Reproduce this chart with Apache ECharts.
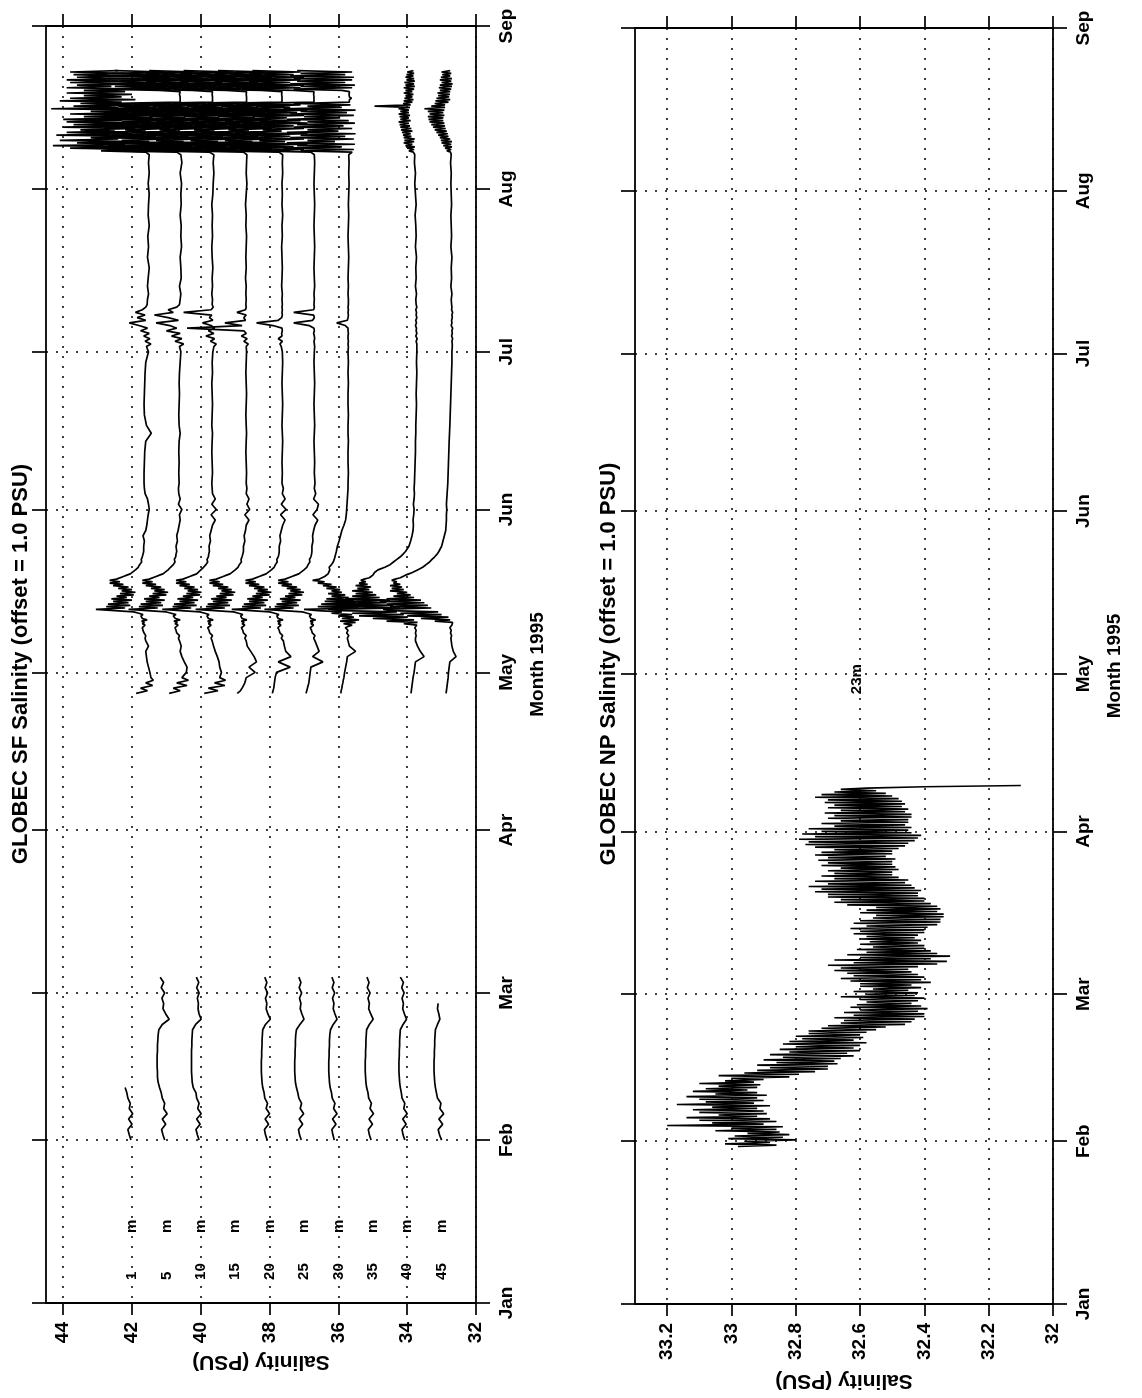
<!DOCTYPE html>
<html><head><meta charset="utf-8">
<script src="https://cdn.jsdelivr.net/npm/echarts@6/dist/echarts.min.js"></script>
<style>html,body{margin:0;padding:0;background:#fff;}#chart{width:1142px;height:1398px;}</style>
</head><body><div id="chart"></div>
<script>
// ---------- axes / labels ----------
const monthDays = [0,31,59,90,120,151,181,212,243];
const monthNames = ['Jan','Feb','Mar','Apr','May','Jun','Jul','Aug','Sep'];
const sfSalTicks = [32,34,36,38,40,42,44];
const npSalTicks = [32,32.2,32.4,32.6,32.8,33,33.2];
const depthLabels = ['1','5','10','15','20','25','30','35','40','45'];
const depthLabelSal = [42,41,40,39,38,37,36,35,34,33];

// ---------- SF, February segment (day of year) ----------
const febDays = [31,32,33,34,35,36,37,38,39,40,41,42,43,44,45,46,47,48,49,50,51,52,53,54,55,56,57,58,59,60,61,62];
const feb1m = [42.03,42.08,42.12,42.0,42.1,41.98,42.08,42.05,42.12,42.15,42.2];
const feb5m = [41.05,41.1,41.14,41.02,41.12,40.98,41.08,41.05,41.12,41.15,41.2,41.24,41.26,41.26,41.27,41.27,41.27,41.26,41.26,41.25,41.24,41.22,41.12,40.92,41.02,41.1,41.08,41.13,41.05,41.15,41.08,41.18];
const feb10m = [40.05,40.1,40.14,40.02,40.12,39.99,40.09,40.05,40.12,40.14,40.22,40.25,40.26,40.27,40.27,40.27,40.27,40.27,40.26,40.26,40.25,40.24,40.15,39.99,40.05,40.08,40.07,40.1,40.05,40.12,40.06,40.13];
const feb20m = [38.07,38.12,38.15,38.03,38.13,38.0,38.1,38.06,38.14,38.16,38.2,38.22,38.23,38.24,38.24,38.24,38.23,38.23,38.22,38.22,38.21,38.2,38.12,37.98,38.05,38.1,38.08,38.12,38.06,38.13,38.08,38.14];
const feb25m = [37.08,37.13,37.16,37.04,37.14,37.01,37.11,37.07,37.15,37.18,37.22,37.25,37.26,37.27,37.27,37.27,37.26,37.26,37.25,37.25,37.24,37.22,37.12,37.0,37.06,37.11,37.09,37.13,37.07,37.14,37.09,37.15];
const feb30m = [36.12,36.16,36.19,36.07,36.17,36.04,36.14,36.1,36.18,36.2,36.24,36.26,36.27,36.28,36.28,36.28,36.27,36.27,36.26,36.26,36.25,36.23,36.15,36.04,36.1,36.15,36.13,36.17,36.11,36.18,36.13,36.19];
const feb35m = [35.05,35.1,35.13,35.01,35.11,34.98,35.08,35.04,35.12,35.14,35.18,35.2,35.21,35.22,35.22,35.22,35.21,35.21,35.2,35.2,35.19,35.18,35.1,34.99,35.06,35.12,35.1,35.14,35.08,35.16,35.11,35.17];
const feb40m = [34.07,34.12,34.15,34.03,34.13,34.0,34.1,34.07,34.15,34.17,34.2,34.22,34.23,34.24,34.24,34.24,34.23,34.23,34.22,34.22,34.21,34.2,34.12,34.02,34.08,34.13,34.11,34.15,34.09,34.16,34.11,34.2];
const feb45m = [33.0,33.06,33.1,32.97,33.08,32.94,33.05,33.02,33.12,33.15,33.18,33.2,33.21,33.22,33.22,33.22,33.21,33.21,33.2,33.2,33.19,33.18,33.12,33.05,33.08,33.12,33.1];

// ---------- SF, May-August segment ----------
const maDays = [
116,116.5,117,117.5,118,118.5,119,120,121,122,123,124,125,126,
126.5,127,127.5,128,128.5,
128.75,129,129.25,129.5,129.75,130,130.25,130.5,130.75,131,131.25,131.5,131.75,132,132.25,132.5,132.75,133,133.25,133.5,133.75,
134,134.25,134.5,134.75,135,135.25,135.5,135.75,136,136.25,136.5,136.75,137,137.25,137.5,137.75,138,138.25,138.5,138.75,139,
139.5,140,140.5,141,141.5,142,142.5,143,
144,145,146,147,148,149,150,151,152,153,154,155,156,158,160,162,164,165.5,167,169,171,173,175,177,179,181,182,
182.5,183,183.5,184,184.5,185,185.5,186,186.5,187,187.5,188,188.5,189,189.5,190,
191,192,193.5,195,197,199,201,203,205,207,209,211,213,215,217,218.5,
219,219.25,219.5,219.75,220,220.25,220.5,220.75,221,221.25,221.5,221.75,222,222.25,222.5,222.75,223,223.25,223.5,223.75,
224,224.25,224.5,224.75,225,225.25,225.5,225.75,226,226.25,226.5,226.75,227,227.25,227.5,227.75,228,228.25,228.5,228.75,
229,229.25,229.5,229.75,230,230.25,230.5,230.75,231,231.25,231.5,231.75,232,232.25,232.5,232.75,233,233.25,233.5,233.75,
234,234.25,234.5];
const ma1m = [
41.88,41.55,41.75,41.4,41.6,41.38,41.45,41.48,41.52,41.56,41.58,41.6,41.52,41.6,
41.62,41.6,41.65,41.68,41.7,
41.68,41.62,41.7,41.64,41.72,41.56,41.7,41.65,41.74,41.68,41.8,41.95,42.5,43.05,42.2,42.75,42.05,42.7,42.1,42.55,42.0,
42.6,42.15,42.45,41.95,42.35,41.9,42.3,42.0,42.4,42.1,42.55,42.25,42.65,42.35,42.65,42.45,42.4,42.25,42.15,42.05,42.0,
41.9,41.82,41.78,41.72,41.73,41.7,41.68,41.66,
41.66,41.64,41.68,41.6,41.57,41.55,41.53,41.5,41.52,41.55,41.62,41.64,41.65,41.65,41.64,41.63,41.6,41.44,41.58,41.64,41.65,41.64,41.63,41.62,41.6,41.52,41.58,
41.45,41.62,41.48,41.66,41.5,41.75,41.55,41.8,42.08,41.6,41.85,41.62,41.9,41.7,41.6,41.56,
41.55,41.52,41.55,41.53,41.5,41.55,41.52,41.54,41.5,41.53,41.52,41.5,41.53,41.5,41.52,41.5,
41.6,42.9,41.9,43.8,41.7,44.3,42.2,43.6,41.8,44.1,42.4,43.2,41.7,44.2,42.0,43.9,42.5,43.5,41.9,44.0,
42.2,43.7,41.8,43.9,42.3,44.0,42.0,43.4,41.7,43.8,42.1,43.2,41.6,44.35,42.4,43.7,42.0,43.5,42.3,44.1,
41.9,43.8,42.3,43.4,42.0,43.9,42.2,43.4,41.8,43.9,42.6,43.6,41.9,43.8,42.4,43.9,42.1,43.6,42.5,43.7,
42.2,43.8,42.4];
const ma5m = [
40.92,40.6,40.8,40.4,40.7,40.36,40.55,40.42,40.4,40.48,40.55,40.6,40.57,40.62,
40.65,40.62,40.7,40.72,40.75,
40.72,40.66,40.75,40.68,40.78,40.6,40.74,40.7,40.8,40.72,40.86,41.0,41.55,42.1,41.25,41.8,41.1,41.75,41.15,41.6,41.05,
41.65,41.2,41.5,41.0,41.4,40.95,41.35,41.05,41.45,41.15,41.6,41.3,41.7,41.4,41.7,41.5,41.45,41.3,41.2,41.1,41.05,
40.95,40.88,40.8,40.75,40.77,40.73,40.72,40.7,
40.72,40.68,40.7,40.66,40.63,40.6,40.62,40.55,40.65,40.6,40.64,40.65,40.63,40.64,40.63,40.64,40.63,40.6,40.63,40.64,40.63,40.62,40.63,40.62,40.6,40.58,40.62,
40.5,40.75,40.55,40.85,40.6,41.0,40.7,40.9,41.3,40.65,40.95,41.35,40.8,40.95,40.7,40.62,
40.6,40.58,40.62,40.57,40.58,40.6,40.56,40.58,40.57,40.6,40.57,40.58,40.56,40.6,40.55,40.58,
40.7,42.4,40.9,43.1,41.2,42.7,40.8,43.2,41.5,42.3,40.9,42.9,41.3,42.6,40.8,43.0,41.6,42.2,40.9,42.8,
41.2,42.7,40.8,42.3,41.0,43.0,41.4,42.5,40.9,42.9,41.1,42.6,40.8,43.1,41.3,42.4,41.0,42.8,40.6,40.56,
40.6,40.55,40.6,40.56,40.62,40.57,40.6,41.2,42.8,41.0,42.5,40.9,42.9,41.3,42.6,41.0,42.7,40.9,42.8,41.2,
42.6,41.0,42.5];
const ma10m = [
39.9,39.5,39.78,39.3,39.6,39.28,39.45,39.4,39.45,39.47,39.52,39.58,39.63,39.67,
39.7,39.66,39.74,39.76,39.8,
39.76,39.7,39.78,39.72,39.8,39.64,39.78,39.73,39.82,39.76,39.88,40.03,40.58,41.12,40.28,40.82,40.12,40.78,40.18,40.62,40.08,
40.68,40.22,40.52,40.02,40.42,39.98,40.38,40.08,40.48,40.18,40.62,40.32,40.72,40.42,40.72,40.52,40.48,40.32,40.22,40.12,40.07,
40.0,39.92,39.85,39.8,39.82,39.78,39.77,39.75,
39.76,39.72,39.74,39.7,39.66,39.58,39.7,39.55,39.68,39.58,39.66,39.67,39.68,39.66,39.67,39.68,39.67,39.66,39.68,39.67,39.66,39.67,39.68,39.66,39.67,39.65,39.62,
39.55,39.72,39.6,39.85,39.62,39.78,39.6,39.7,39.95,39.65,39.75,39.68,40.5,39.7,39.64,39.67,
39.66,39.68,39.66,39.67,39.65,39.67,39.68,39.66,39.67,39.66,39.68,39.65,39.64,39.62,39.64,39.62,
39.75,41.4,39.95,42.1,40.25,41.7,39.85,42.2,40.5,41.3,39.95,41.9,40.35,41.6,39.85,42.0,40.6,41.2,39.95,41.8,
40.25,41.7,39.85,41.3,40.05,42.0,40.45,41.5,39.95,41.9,40.15,41.6,39.85,42.1,40.35,41.4,40.05,41.8,39.66,39.62,
39.66,39.61,39.66,39.62,39.67,39.63,39.66,40.25,41.8,40.05,41.5,39.95,41.9,40.35,41.6,40.05,41.7,39.95,41.8,40.25,
41.6,40.05,41.5];
const ma15m = [
38.94,38.85,38.8,38.76,38.72,38.7,38.68,38.42,38.6,38.38,38.45,38.55,38.65,38.68,
38.72,38.68,38.76,38.78,38.82,
38.78,38.72,38.8,38.74,38.82,38.66,38.8,38.75,38.84,38.78,38.9,39.05,39.6,40.15,39.3,39.85,39.15,39.8,39.2,39.65,39.1,
39.7,39.25,39.55,39.05,39.45,39.0,39.4,39.1,39.5,39.2,39.65,39.35,39.75,39.45,39.75,39.55,39.5,39.35,39.25,39.15,39.1,
39.0,38.92,38.88,38.82,38.83,38.8,38.78,38.76,
38.76,38.72,38.74,38.7,38.68,38.6,38.72,38.58,38.66,38.6,38.68,38.66,38.68,38.67,38.68,38.69,38.68,38.67,38.68,38.69,38.68,38.67,38.68,38.69,38.68,38.67,38.68,
38.62,38.75,38.65,38.82,38.68,38.75,40.4,38.8,39.3,38.7,38.75,38.68,38.95,38.7,38.68,38.69,
38.68,38.69,38.68,38.7,38.68,38.69,38.68,38.67,38.69,38.68,38.7,38.68,38.66,38.68,38.67,38.66,
38.76,40.4,38.96,41.1,39.26,40.7,38.86,41.2,39.5,40.3,38.96,40.9,39.36,40.6,38.86,41.0,39.6,40.2,38.96,40.8,
39.26,40.7,38.86,40.3,39.06,41.0,39.46,40.5,38.96,40.9,39.16,40.6,38.86,41.1,39.36,40.4,39.06,40.8,38.67,38.63,
38.67,38.62,38.67,38.63,38.68,38.64,38.67,39.26,40.8,39.06,40.5,38.96,40.9,39.36,40.6,39.06,40.7,38.96,40.8,39.26,
40.6,39.06,40.5];
const ma20m = [
37.92,37.9,37.88,37.87,37.86,37.85,37.84,37.8,37.4,37.75,37.38,37.53,37.57,37.6,
37.66,37.62,37.7,37.72,37.76,
37.73,37.67,37.75,37.69,37.77,37.61,37.75,37.7,37.79,37.73,37.85,38.0,38.55,39.1,38.25,38.8,38.1,38.75,38.15,38.6,38.05,
38.65,38.2,38.5,38.0,38.4,37.95,38.35,38.05,38.45,38.15,38.6,38.3,38.7,38.4,38.7,38.5,38.45,38.3,38.2,38.1,38.05,
37.95,37.87,37.83,37.78,37.79,37.75,37.73,37.72,
37.72,37.68,37.7,37.66,37.62,37.55,37.68,37.52,37.66,37.55,37.63,37.6,37.64,37.63,37.64,37.63,37.62,37.63,37.64,37.63,37.62,37.63,37.64,37.63,37.62,37.63,37.66,
37.7,37.63,37.75,37.64,37.65,37.63,37.64,37.9,38.38,37.75,37.65,37.63,37.64,37.63,37.64,37.63,
37.64,37.63,37.65,37.64,37.63,37.64,37.65,37.63,37.64,37.62,37.64,37.63,37.64,37.62,37.63,37.62,
37.73,39.4,37.93,40.1,38.23,39.7,37.83,40.2,38.5,39.3,37.93,39.9,38.33,39.6,37.83,40.0,38.6,39.2,37.93,39.8,
38.23,39.7,37.83,39.3,38.03,40.0,38.43,39.5,37.93,39.9,38.13,39.6,37.83,40.1,38.33,39.4,38.03,39.8,37.64,37.6,
37.64,37.59,37.64,37.6,37.65,37.61,37.64,38.23,39.8,38.03,39.5,37.93,39.9,38.33,39.6,38.03,39.7,37.93,39.8,38.23,
39.6,38.03,39.5];
const ma25m = [
36.94,36.92,36.9,36.88,36.86,36.85,36.84,36.82,36.8,36.45,36.75,36.56,36.62,36.68,
36.72,36.68,36.76,36.78,36.82,
36.78,36.72,36.8,36.74,36.82,36.66,36.8,36.75,36.84,36.78,36.9,37.05,37.6,38.15,37.3,37.85,37.15,37.8,37.2,37.65,37.1,
37.7,37.25,37.55,37.05,37.45,37.0,37.4,37.1,37.5,37.2,37.65,37.35,37.75,37.45,37.75,37.55,37.5,37.35,37.25,37.15,37.1,
37.0,36.92,36.88,36.83,36.84,36.8,36.78,36.77,
36.77,36.74,36.75,36.72,36.68,36.6,36.74,36.62,36.58,36.72,36.66,36.7,36.68,36.7,36.69,36.7,36.71,36.7,36.69,36.7,36.71,36.7,36.69,36.7,36.71,36.7,36.69,
36.7,36.71,36.69,36.7,36.72,36.7,36.71,36.85,37.3,36.75,36.7,36.72,37.3,36.72,36.7,36.71,
36.7,36.71,36.69,36.7,36.71,36.7,36.69,36.7,36.71,36.7,36.69,36.7,36.71,36.7,36.69,36.7,
36.8,38.4,37.0,39.0,37.3,38.7,36.9,39.1,37.55,38.3,37.0,38.9,37.4,38.6,36.9,39.0,37.65,38.2,37.0,38.8,
37.3,38.7,36.9,38.3,37.1,39.0,37.5,38.5,37.0,38.9,37.2,38.6,36.9,39.1,37.4,38.4,37.1,38.8,36.71,36.67,
36.71,36.66,36.71,36.67,36.72,36.68,36.71,37.3,38.8,37.1,38.5,37.0,38.9,37.4,38.6,37.1,38.7,37.0,38.8,37.3,
38.6,37.1,38.5];
const ma30m = [
35.93,35.92,35.9,35.89,35.87,35.86,35.84,35.82,35.79,35.76,35.74,35.5,35.68,35.72,
35.74,35.7,35.76,35.72,35.8,
35.72,35.6,35.85,35.5,35.95,35.4,35.9,35.55,36.0,35.6,36.2,35.9,36.6,37.0,35.4,36.6,35.35,36.5,35.5,36.4,35.55,
36.35,35.7,36.2,35.8,36.3,35.9,36.2,35.95,36.35,36.05,36.45,36.2,36.6,36.4,36.75,36.55,36.5,36.4,36.35,36.3,36.3,
36.25,36.27,36.2,36.15,36.12,36.1,36.08,36.06,
36.03,35.98,35.94,35.9,35.84,35.79,35.77,35.76,35.75,35.74,35.73,35.72,35.72,35.71,35.72,35.72,35.71,35.72,35.72,35.71,35.72,35.72,35.71,35.72,35.71,35.72,35.71,
35.72,35.71,35.72,35.72,35.71,35.72,35.72,35.8,36.05,35.74,35.72,35.71,35.72,35.71,35.72,35.71,
35.71,35.72,35.71,35.72,35.71,35.7,35.71,35.72,35.71,35.7,35.71,35.7,35.69,35.7,35.69,35.7,
35.6,37.1,35.55,37.6,35.9,37.2,35.52,37.5,36.1,36.9,35.55,37.4,35.8,37.1,35.5,37.5,36.0,36.9,35.6,37.3,
35.85,37.2,35.52,36.9,35.7,37.5,35.95,37.0,35.55,37.4,35.75,37.1,35.5,37.6,35.9,36.9,35.65,37.3,35.68,35.63,
35.68,35.62,35.68,35.63,35.69,35.64,35.68,35.9,37.3,35.6,37.1,35.52,37.4,35.8,37.2,35.6,37.3,35.55,37.4,35.8,
37.1,35.6,37.2];
const ma40m = [
33.89,33.88,33.87,33.86,33.85,33.84,33.83,33.8,33.78,33.76,33.51,33.62,33.7,33.76,
33.76,33.74,33.76,33.74,33.78,
33.75,33.72,34.1,33.7,34.6,33.8,35.0,34.0,35.4,34.1,35.6,34.3,35.9,36.3,34.2,35.8,34.4,36.0,34.6,35.9,34.5,
35.8,34.8,35.6,34.9,35.5,35.0,35.6,35.1,35.45,35.05,35.5,35.15,35.4,35.2,35.35,35.25,35.1,35.05,35.0,34.98,34.95,
34.85,34.65,34.5,34.4,34.3,34.2,34.12,34.05,
33.95,33.9,33.86,33.83,33.82,33.83,33.81,33.8,33.82,33.8,33.79,33.8,33.79,33.78,33.77,33.76,33.76,33.75,33.75,33.74,33.73,33.74,33.73,33.72,33.73,33.72,33.72,
33.72,33.74,33.71,33.75,33.72,33.74,33.73,33.76,33.73,33.75,33.72,33.74,33.73,33.75,33.72,33.74,
33.75,33.73,33.76,33.74,33.75,33.73,33.76,33.74,33.75,33.77,33.74,33.76,33.78,33.76,33.79,33.78,
33.82,33.95,33.8,34.0,33.78,34.05,33.85,34.1,33.8,34.08,33.78,34.1,33.88,34.12,33.9,34.15,33.85,34.18,33.88,34.2,
33.92,34.22,33.95,34.25,33.9,34.2,33.95,34.22,33.92,34.25,33.95,34.2,33.95,34.25,33.92,34.95,33.9,34.12,33.85,34.1,
33.82,34.08,33.85,34.05,33.82,34.1,33.85,34.05,33.8,34.1,33.78,34.05,33.8,34.08,33.78,34.02,33.8,34.05,33.82,34.02,
33.8,34.0,33.82];
const ma45m = [
32.87,32.86,32.85,32.84,32.83,32.82,32.81,32.8,32.78,32.76,32.58,32.66,32.7,32.72,
32.73,32.71,32.74,32.72,32.76,
32.72,32.7,32.74,32.68,33.2,32.75,33.6,32.8,34.0,33.0,34.2,33.1,34.5,34.7,33.3,34.5,33.4,34.6,33.5,34.8,33.6,
34.6,33.8,34.4,33.9,34.3,34.0,34.5,34.1,34.45,34.15,34.5,34.2,34.4,34.3,34.45,34.35,34.2,34.15,34.05,33.95,33.85,
33.7,33.55,33.45,33.35,33.28,33.2,33.13,33.08,
33.0,32.96,32.92,32.88,32.87,32.86,32.86,32.85,32.86,32.85,32.84,32.83,32.82,32.81,32.8,32.79,32.78,32.77,32.76,32.75,32.74,32.73,32.72,32.71,32.7,32.7,32.69,
32.69,32.7,32.68,32.71,32.69,32.7,32.68,32.72,32.7,32.71,32.69,32.7,32.68,32.71,32.7,32.71,
32.72,32.7,32.73,32.71,32.72,32.7,32.73,32.71,32.72,32.73,32.71,32.72,32.73,32.72,32.74,32.72,
32.74,32.85,32.72,32.9,32.7,32.95,32.72,33.0,32.7,33.02,32.75,33.05,32.8,33.1,32.82,33.15,32.85,33.2,32.88,33.25,
32.9,33.3,32.92,33.35,32.95,33.38,32.95,33.4,32.92,33.35,32.95,33.4,32.92,33.5,32.9,33.3,32.9,33.2,32.8,33.18,
32.75,33.15,32.78,33.1,32.76,33.12,32.75,33.05,32.72,33.08,32.7,33.05,32.68,33.0,32.72,33.05,32.7,33.02,32.75,32.98,
32.72,33.0,32.75];

// ---------- NP 23 m (samples every 6 h from day 30) ----------
const npStartDay = 30;
const npStepDays = 0.25;
const np23m = [
32.98,32.86,33.02,32.88, 32.96,32.80,33.01,32.84, 32.99,32.82,32.95,32.85, 33.05,32.86,33.0,32.84,
33.2,32.9,33.06,32.86, 33.1,32.88,33.14,32.92, 33.04,32.89,33.1,32.9, 33.12,32.92,33.06,32.88,
33.17,32.93,33.08,32.9, 33.1,32.92,33.14,32.89, 33.05,32.92,33.12,32.95, 33.08,32.92,33.04,32.91,
33.1,32.93,33.02,32.9, 33.0,32.82,33.04,32.79, 32.96,32.74,32.92,32.7, 32.88,32.7,32.92,32.67,
32.86,32.68,32.9,32.66, 32.84,32.62,32.88,32.64, 32.82,32.6,32.85,32.62, 32.8,32.6,32.84,32.58,
32.82,32.62,32.78,32.59, 32.8,32.6,32.76,32.58, 32.76,32.55,32.72,32.52, 32.7,32.46,32.66,32.44,
32.65,32.43,32.68,32.4, 32.62,32.4,32.65,32.42, 32.6,32.39,32.63,32.41, 32.61,32.44,32.58,32.42,
32.6,32.4,32.66,32.43, 32.58,32.42,32.62,32.45, 32.56,32.41,32.6,32.44, 32.6,32.38,32.63,32.41,
32.66,32.4,32.62,32.42, 32.64,32.44,32.68,32.45, 32.66,32.42,32.7,32.36, 32.62,32.33,32.68,32.38,
32.6,32.32,32.64,32.36, 32.58,32.38,32.61,32.4, 32.56,32.4,32.6,32.42, 32.57,32.41,32.6,32.43,
32.58,32.42,32.62,32.4, 32.6,32.4,32.63,32.39, 32.58,32.36,32.62,32.35, 32.6,32.35,32.56,32.34,
32.55,32.34,32.6,32.36, 32.58,32.35,32.55,32.36, 32.64,32.38,32.68,32.4, 32.66,32.4,32.7,32.42,
32.7,32.42,32.74,32.41, 32.72,32.43,32.76,32.44, 32.7,32.46,32.74,32.45, 32.68,32.48,32.72,32.5,
32.68,32.5,32.7,32.48, 32.66,32.49,32.72,32.5, 32.7,32.5,32.73,32.49, 32.7,32.52,32.74,32.5,
32.72,32.5,32.68,32.48, 32.74,32.46,32.77,32.45, 32.76,32.43,32.79,32.42, 32.74,32.41,32.78,32.44,
32.72,32.45,32.76,32.44, 32.68,32.46,32.72,32.45, 32.66,32.45,32.7,32.44, 32.68,32.44,32.71,32.46,
32.66,32.45,32.7,32.47, 32.68,32.46,32.71,32.47, 32.7,32.48,32.74,32.5, 32.72,32.52,32.68,32.55,
32.66,32.58,32.4,32.1];

// ---------- checks ----------
[ma1m,ma5m,ma10m,ma15m,ma20m,ma25m,ma30m,ma40m,ma45m].forEach((a,i)=>{
  if (a.length !== maDays.length) throw new Error('ma series '+i+' length '+a.length+' vs '+maDays.length);
});
[feb5m,feb10m,feb20m,feb25m,feb30m,feb35m,feb40m].forEach((a,i)=>{
  if (a.length !== febDays.length) throw new Error('feb series '+i+' length '+a.length);
});

// ---------- build ----------
const FONT = '"Liberation Sans", Arial, Helvetica, sans-serif';
const pairs = (days, vals) => vals.map((v, i) => [v, days[i]]);
const npDays = np23m.map((v, i) => npStartDay + i * npStepDays);

function lineSeries(data, xi, yi, w) {
  return {type: 'line', xAxisIndex: xi, yAxisIndex: yi, data, symbol: 'none', showSymbol: false,
          lineStyle: {color: '#000', width: w}, silent: true, animation: false, clip: true};
}
const sfSeg = [
  [febDays, feb1m], [febDays, feb5m], [febDays, feb10m], [febDays, feb20m], [febDays, feb25m],
  [febDays, feb30m], [febDays, feb35m], [febDays, feb40m], [febDays, feb45m],
  [maDays, ma1m], [maDays, ma5m], [maDays, ma10m], [maDays, ma15m], [maDays, ma20m],
  [maDays, ma25m], [maDays, ma30m], [maDays, ma40m], [maDays, ma45m]
];
const series = sfSeg.map(s => lineSeries(pairs(s[0], s[1]), 0, 0, 1.7));
series.push(lineSeries(pairs(npDays, np23m), 2, 2, 1.6));

// depth labels (number and unit) in the SF panel
const labelFont = {color: '#000', fontSize: 15, fontWeight: 'bold', fontFamily: FONT,
                   textBorderWidth: 0, textBorderColor: 'transparent', textShadowBlur: 0};
const labelItem = {color: 'transparent', opacity: 1};
series.push({type: 'scatter', xAxisIndex: 0, yAxisIndex: 0, symbolSize: 0, silent: true, animation: false,
  itemStyle: labelItem, data: depthLabelSal.map(s => [s, 4.4]),
  label: Object.assign({show: true, position: 'inside', rotate: 90, align: 'left', verticalAlign: 'middle',
    formatter: p => depthLabels[p.dataIndex]}, labelFont)});
series.push({type: 'scatter', xAxisIndex: 0, yAxisIndex: 0, symbolSize: 0, silent: true, animation: false,
  itemStyle: labelItem, data: depthLabelSal.map(s => [s, 14.6]),
  label: Object.assign({show: true, position: 'inside', rotate: 90, align: 'center', verticalAlign: 'middle',
    formatter: 'm'}, labelFont)});
series.push({type: 'scatter', xAxisIndex: 2, yAxisIndex: 2, symbolSize: 0, silent: true, animation: false,
  itemStyle: labelItem, data: [[32.61, 119]],
  label: Object.assign({show: true, position: 'inside', rotate: 90, align: 'center', verticalAlign: 'middle',
    formatter: '23m'}, labelFont)});

const axisLine = {show: true, onZero: false, lineStyle: {color: '#000', width: 1.8}};
const dotted = {color: '#000', width: 1.5, type: [2, 8]};
const tickFont = {color: '#000', fontSize: 19, fontWeight: 'bold', fontFamily: FONT};

function salAxis(gi, pos, min, max, interval, ticks, main, nameGap) {
  return {type: 'value', gridIndex: gi, position: pos, min, max, interval, inverse: true,
    axisLine, axisTick: {show: true, inside: false, length: 12, customValues: ticks, lineStyle: {color: '#000', width: 1.7}},
    axisLabel: Object.assign({show: main, customValues: ticks, rotate: 90, margin: 19}, tickFont),
    splitLine: {show: main, lineStyle: dotted},
    name: main ? 'Salinity (PSU)' : '', nameLocation: 'middle', nameRotate: 180, nameGap,
    nameTextStyle: {color: '#000', fontSize: 21, fontWeight: 'bold', fontFamily: FONT}};
}
function dayAxis(gi, pos, main) {
  return {type: 'value', gridIndex: gi, position: pos, min: 0, max: 243,
    axisLine, axisTick: {show: true, inside: false, length: 14, customValues: monthDays, lineStyle: {color: '#000', width: 1.7}},
    axisLabel: Object.assign({show: main, customValues: monthDays, rotate: 90, margin: 21,
      formatter: v => monthNames[monthDays.indexOf(v)]}, tickFont),
    splitLine: {show: main, lineStyle: dotted},
    name: main ? 'Month 1995' : '', nameLocation: 'middle', nameRotate: 90, nameGap: 52,
    nameTextStyle: {color: '#000', fontSize: 19, fontWeight: 'bold', fontFamily: FONT}};
}

const option = {
  animation: false,
  backgroundColor: '#fff',
  grid: [
    {left: 46, top: 26, width: 430, height: 1277},
    {left: 635, top: 28, width: 418, height: 1276}
  ],
  xAxis: [
    salAxis(0, 'bottom', 32, 44.5, 2, sfSalTicks, true, 48),
    salAxis(0, 'top', 32, 44.5, 2, sfSalTicks, false, 0),
    salAxis(1, 'bottom', 32, 33.3, 0.2, npSalTicks, true, 66),
    salAxis(1, 'top', 32, 33.3, 0.2, npSalTicks, false, 0)
  ],
  yAxis: [
    dayAxis(0, 'right', true),
    dayAxis(0, 'left', false),
    dayAxis(1, 'right', true),
    dayAxis(1, 'left', false)
  ],
  graphic: [
    {type: 'text', x: 21, y: 664, rotation: Math.PI / 2, silent: true,
     style: {text: 'GLOBEC SF Salinity (offset = 1.0 PSU)', fill: '#000', font: 'bold 22px ' + FONT,
             textAlign: 'center', textVerticalAlign: 'middle', align: 'center', verticalAlign: 'middle'}},
    {type: 'text', x: 609, y: 664, rotation: Math.PI / 2, silent: true,
     style: {text: 'GLOBEC NP Salinity (offset = 1.0 PSU)', fill: '#000', font: 'bold 22px ' + FONT,
             textAlign: 'center', textVerticalAlign: 'middle', align: 'center', verticalAlign: 'middle'}}
  ],
  series
};

const chart = echarts.init(document.getElementById('chart'), null, {renderer: 'canvas', width: 1142, height: 1398});
chart.setOption(option);
</script>
</body></html>
